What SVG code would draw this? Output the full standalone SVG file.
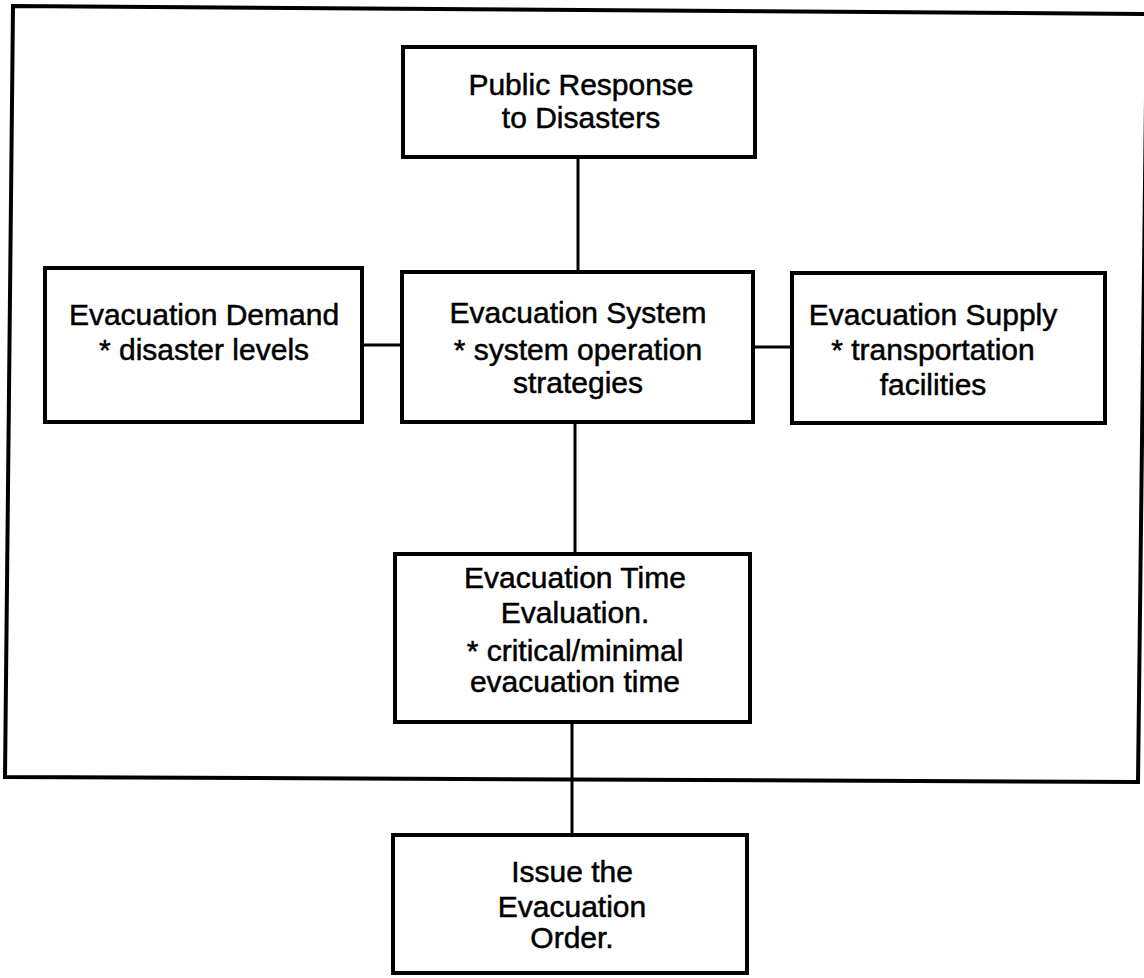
<svg xmlns="http://www.w3.org/2000/svg" width="1144" height="978" viewBox="0 0 1144 978">
<style>
.box{fill:#fff;stroke:#000;stroke-width:4}
.frame{fill:none;stroke:#000;stroke-width:4;stroke-linejoin:miter}
.conn{stroke:#000;stroke-width:3;fill:none}
text{font-family:"Liberation Sans",Arial,sans-serif;font-size:30px;fill:#000;stroke:#000;stroke-width:0.5;text-anchor:middle}
</style>
<rect width="1144" height="978" fill="#fff"/>
<path class="frame" d="M13,6 L1147,14 L1138,782 L5,777 Z"/>
<g id="connectors">
<line class="conn" x1="578" y1="157" x2="578" y2="272"/>
<line class="conn" x1="362" y1="345" x2="402" y2="345"/>
<line class="conn" x1="753" y1="347" x2="792" y2="347"/>
<line class="conn" x1="575" y1="422" x2="575" y2="554"/>
<line class="conn" x1="572" y1="722" x2="572" y2="835"/>
</g>
<g id="public">
<rect class="box" x="403" y="47" width="352" height="110"/>
<text x="581" y="95">Public Response</text>
<text x="581" y="128">to Disasters</text>
</g>
<g id="demand">
<rect class="box" x="45" y="268" width="317" height="154"/>
<text x="204" y="325">Evacuation Demand</text>
<text x="204" y="360">* disaster levels</text>
</g>
<g id="system">
<rect class="box" x="402" y="272" width="351" height="150"/>
<text x="578" y="323">Evacuation System</text>
<text x="578" y="360">* system operation</text>
<text x="578" y="393">strategies</text>
</g>
<g id="supply">
<rect class="box" x="792" y="273" width="313" height="150"/>
<text x="933" y="325">Evacuation Supply</text>
<text x="933" y="360">* transportation</text>
<text x="933" y="395">facilities</text>
</g>
<g id="time">
<rect class="box" x="395" y="554" width="355" height="168"/>
<text x="575" y="588">Evacuation Time</text>
<text x="575" y="623">Evaluation.</text>
<text x="575" y="661">* critical/minimal</text>
<text x="575" y="692">evacuation time</text>
</g>
<g id="issue">
<rect class="box" x="393" y="835" width="354" height="138"/>
<text x="572" y="882">Issue the</text>
<text x="572" y="917">Evacuation</text>
<text x="572" y="948">Order.</text>
</g>
</svg>
